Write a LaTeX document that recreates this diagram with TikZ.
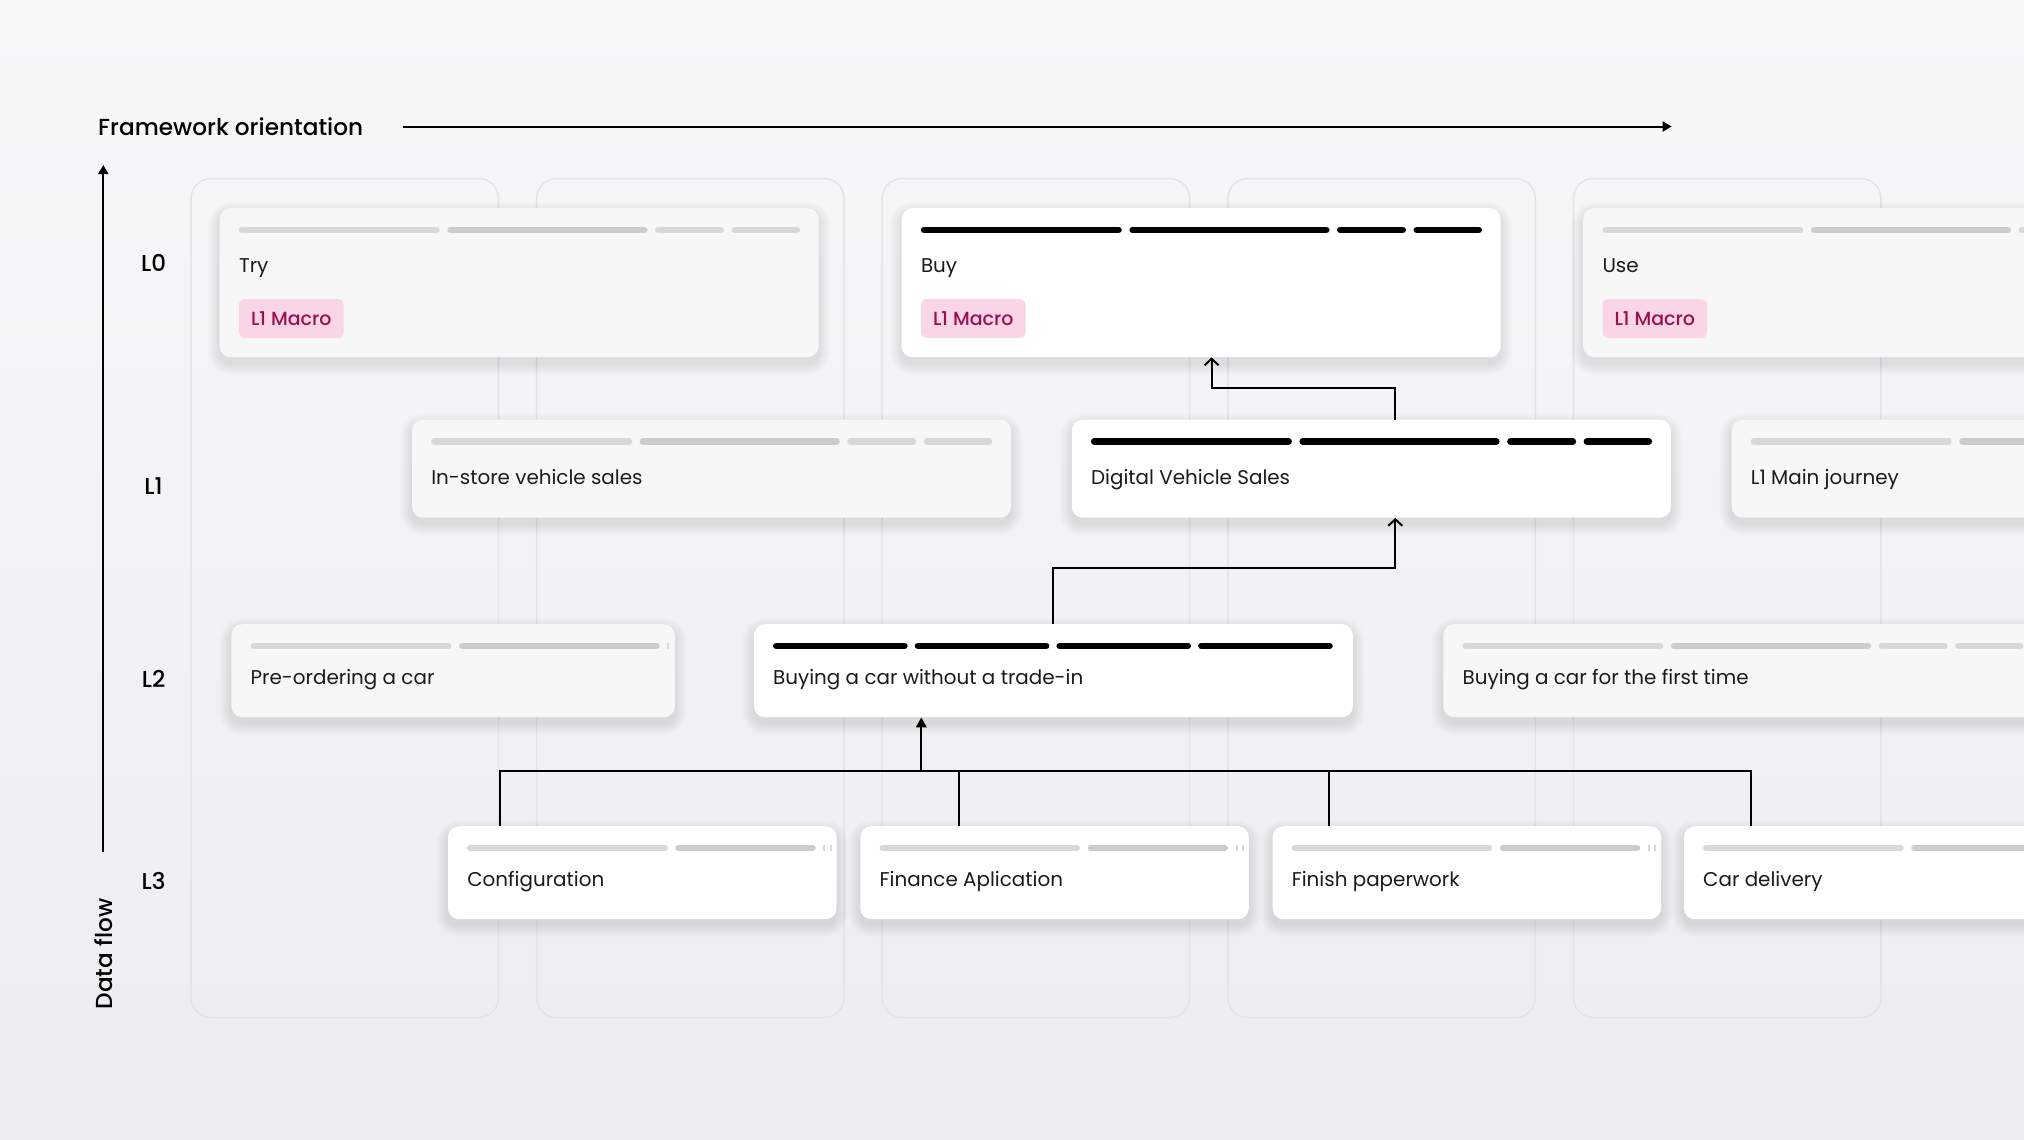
\documentclass[tikz,border=0pt]{standalone}
\usepackage{fontspec}
\setmainfont{Poppins}
\IfFontExistsTF{Poppins Medium}{\newfontfamily\jmedium{Poppins Medium}}{\newfontfamily\jmedium{Poppins}[FakeBold=1]}
\usetikzlibrary{calc,arrows.meta}
\definecolor{bgtop}{HTML}{F8F8F9}
\definecolor{bgbot}{HTML}{ECEDF0}
\definecolor{colline}{HTML}{E3E4E8}
\definecolor{cardgray}{HTML}{F7F7F8}
\definecolor{barA}{HTML}{D8D7D9}
\definecolor{barB}{HTML}{CDCCCE}
\definecolor{ink}{HTML}{1A1A1C}
\definecolor{badgebg}{HTML}{F9D5E7}
\definecolor{badgefg}{HTML}{9B104F}
\newcommand\jtxtfont{\fontsize{19.9}{24}\selectfont}
\newcommand\jhdrfont{\jmedium\fontsize{23.2}{27}\selectfont}
\newcommand\jlvlfont{\jmedium\fontsize{23}{27}\selectfont}
\newcommand\jbadgefont{\jmedium\fontsize{19}{22}\selectfont}
\tikzset{
  card/.style={rounded corners=11pt, inner sep=0pt, anchor=north west},
  cardoff/.style={card, fill=cardgray},
  cardon/.style={card, fill=white},
  softshadow/.style={fill=black, fill opacity=0.0065},
  txt/.style={anchor=base west, inner sep=0pt, font=\jtxtfont, text=ink},
  hdr/.style={anchor=base west, inner sep=0pt, font=\jhdrfont, text=black},
  lvl/.style={anchor=base, inner sep=0pt, font=\jlvlfont, text=black},
  badge/.style={fill=badgebg, rounded corners=5pt, minimum width=104.5pt, minimum height=38.7pt,
    anchor=north west, inner sep=0pt, text=badgefg, font=\jbadgefont},
  colbox/.style={draw=colline, line width=1.5pt, rounded corners=20pt},
  barln/.style={line width=6.5pt, line cap=round},
  conn/.style={draw=black, line width=2pt},
  axis/.style={draw=black, line width=2pt, -{Triangle[length=9pt,width=10pt]}},
  filledtip/.style={-{Triangle[length=10pt,width=10.5pt]}},
  opentip/.style={-{Straight Barb[length=6.5pt,width=14pt]}},
}
% soft shadow: stacked translucent rounded rectangles (x, y, w, h)
\newcommand\jshadow[4]{%
  \foreach \k in {1,...,12}{%
    \fill[softshadow, rounded corners={(11+\k)*1pt}] ({#1-\k},{#2+6-\k}) rectangle ({#1+#3+\k},{#2+#4+6+\k});
  }}
% card: name, style, x, y, w, h
\newcommand\jcard[6]{\jshadow{#3}{#4}{#5}{#6}\node[#2, minimum width=#5pt, minimum height=#6pt] (#1) at (#3,#4) {};}
\newcommand\jseg[4]{\draw[barln,#4] ($(#1.north west)+(#2,22)$) -- ($(#1.north west)+(#3,22)$);}
\newcommand\jsliver[2]{\fill[barA] ($(#1.north west)+(#2,18.75)$) rectangle ($(#1.north west)+({#2+2},25.25)$);}
\newcommand\jpatA[3]{\jseg{#1}{22.55}{217.05}{#2}\jseg{#1}{231.05}{424.75}{#3}\jseg{#1}{438.75}{501.25}{#2}\jseg{#1}{515.25}{577.25}{#2}}
\newcommand\jpatB[1]{\jseg{#1}{22.55}{150.75}{black}\jseg{#1}{164.25}{292.45}{black}\jseg{#1}{305.95}{434.15}{black}\jseg{#1}{447.65}{575.85}{black}}
\newcommand\jpatC[1]{\jseg{#1}{22.55}{216.75}{barA}\jseg{#1}{230.75}{364.75}{barB}\jsliver{#1}{375.5}\jsliver{#1}{381.9}}
\newcommand\jpatD[1]{\jseg{#1}{22.55}{216.95}{barA}\jseg{#1}{230.95}{425.35}{barB}\jsliver{#1}{435.8}}
\begin{document}
\begin{tikzpicture}[x=1pt,y=-1pt]
\useasboundingbox (0,0) rectangle (2024,1140);
\shade[top color=bgtop, bottom color=bgbot] (0,0) rectangle (2024,1140);

% columns
\foreach \cx in {191,536.6,882.2,1227.8,1573.4}
  \draw[colbox] (\cx,178.5) rectangle ({\cx+307.5},1017.5);

% axes
\node[hdr] (fo) at (98,135) {Framework orientation};
\coordinate (foA) at (402.7,126.5);
\coordinate (foB) at (1671.6,126.5);
\draw[axis] (foA) -- (foB);
\coordinate (dfA) at (103.3,852);
\coordinate (dfB) at (103.3,165);
\draw[axis] (dfA) -- (dfB);
\node[font=\jhdrfont, inner sep=0pt, rotate=90, anchor=center] (df) at (103.3,954) {Data flow};

% level labels
\node[lvl] (l0) at (153.6,271.7) {L0};
\node[lvl] (l1) at (153.6,494.6) {L1};
\node[lvl] (l2) at (153.6,687.8) {L2};
\node[lvl] (l3) at (153.6,889) {L3};

% L0 cards
\jcard{try}{cardoff}{219.5}{208}{599}{149}
\jcard{buy}{cardon}{901.5}{208}{599}{149}
\jcard{use}{cardoff}{1583}{208}{599}{149}
% L1 cards
\jcard{instore}{cardoff}{411.8}{419.5}{599}{98}
\jcard{dvs}{cardon}{1071.6}{419.5}{599}{98}
\jcard{mainj}{cardoff}{1731.4}{419.5}{599}{98}
% L2 cards
\jcard{preorder}{cardoff}{231.2}{624}{443.5}{93}
\jcard{buying}{cardon}{753.7}{624}{599}{93}
\jcard{firsttime}{cardoff}{1443.1}{624}{599}{93}
% L3 cards
\jcard{config}{cardon}{447.8}{826}{388.5}{93}
\jcard{finance}{cardon}{860.1}{826}{388.5}{93}
\jcard{paper}{cardon}{1272.3}{826}{388.5}{93}
\jcard{delivery}{cardon}{1683.7}{826}{388.5}{93}

% bars
\jpatA{try}{barA}{barB}
\jpatA{buy}{black}{black}
\jpatA{use}{barA}{barB}
\jpatA{instore}{barA}{barB}
\jpatA{dvs}{black}{black}
\jpatA{mainj}{barA}{barB}
\jpatD{preorder}
\jpatB{buying}
\jpatA{firsttime}{barA}{barB}
\jpatC{config}
\jpatC{finance}
\jpatC{paper}
\jpatC{delivery}

% texts
\node[txt] (tryt) at ($(try.north west)+(19.3,64.7)$) {Try};
\node[txt] (buyt) at ($(buy.north west)+(19.3,64.7)$) {Buy};
\node[txt] (uset) at ($(use.north west)+(19.3,64.7)$) {Use};
\node[badge] (tryb) at ($(try.north west)+(19.3,91)$) {L1 Macro};
\node[badge] (buyb) at ($(buy.north west)+(19.3,91)$) {L1 Macro};
\node[badge] (useb) at ($(use.north west)+(19.3,91)$) {L1 Macro};
\node[txt] (instoret) at ($(instore.north west)+(19.3,64.5)$) {In-store vehicle sales};
\node[txt] (dvst) at ($(dvs.north west)+(19.3,64.5)$) {Digital Vehicle Sales};
\node[txt] (mainjt) at ($(mainj.north west)+(19.3,64.5)$) {L1 Main journey};
\node[txt] (preordert) at ($(preorder.north west)+(19.3,60)$) {Pre-ordering a car};
\node[txt] (buyingt) at ($(buying.north west)+(19.3,60)$) {Buying a car without a trade-in};
\node[txt] (firsttimet) at ($(firsttime.north west)+(19.3,60)$) {Buying a car for the first time};
\node[txt] (configt) at ($(config.north west)+(19.3,60)$) {Configuration};
\node[txt] (financet) at ($(finance.north west)+(19.3,60)$) {Finance Aplication};
\node[txt] (papert) at ($(paper.north west)+(19.3,60)$) {Finish paperwork};
\node[txt] (deliveryt) at ($(delivery.north west)+(19.3,60)$) {Car delivery};

% connectors
\coordinate (xA) at (499.5,0);
\coordinate (xB) at (958.7,0);
\coordinate (xC) at (1329.4,0);
\coordinate (xD) at (1750.5,0);
\coordinate (hub) at (921.3,770.7);
\draw[conn] (config.north -| xA) |- (hub) -| (delivery.north -| xD);
\draw[conn] (finance.north -| xB) -- (xB |- hub);
\draw[conn] (paper.north -| xC) -- (xC |- hub);
\draw[conn, filledtip] (hub) -- (hub |- buying.south);

\coordinate (xE) at (1053,0);
\coordinate (xF) at (1395.3,0);
\coordinate (yG) at (0,568.3);
\draw[conn, opentip] (buying.north -| xE) -- (xE |- yG) -- (xF |- yG) -- (dvs.south -| xF);

\coordinate (xI) at (1211.6,0);
\coordinate (yH) at (0,388.3);
\draw[conn, opentip] (dvs.north -| xF) -- (xF |- yH) -- (xI |- yH) -- (buy.south -| xI);
\end{tikzpicture}
\end{document}
